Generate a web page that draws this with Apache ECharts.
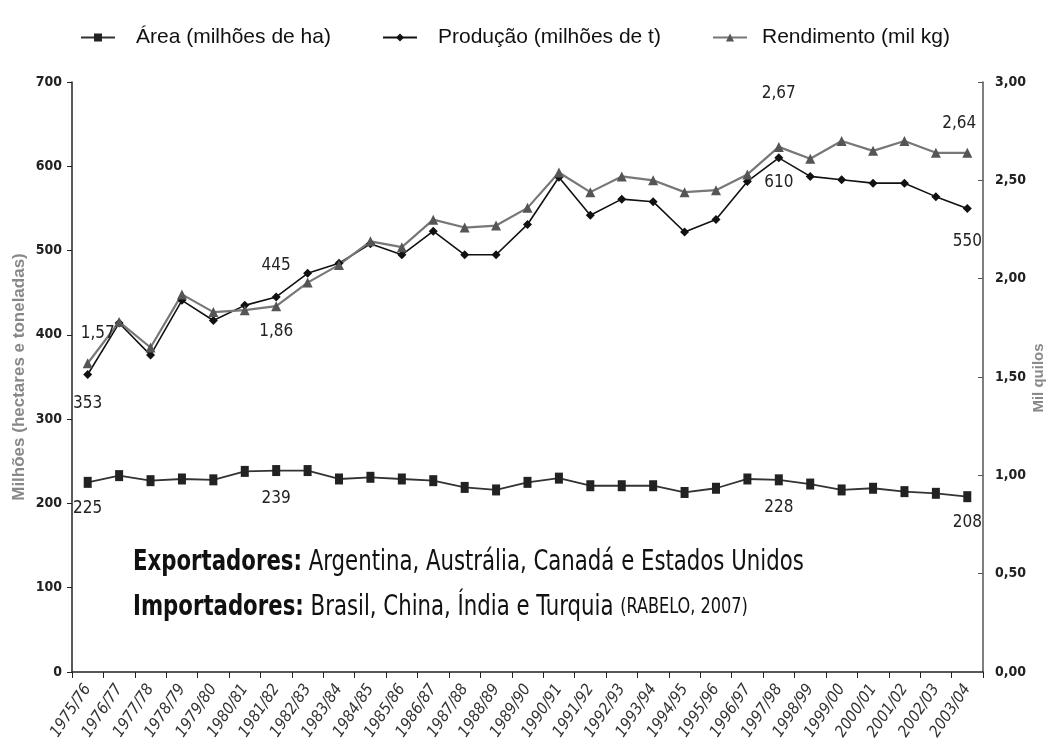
<!DOCTYPE html>
<html>
<head>
<meta charset="utf-8">
<script src="https://cdn.jsdelivr.net/npm/echarts@6/dist/echarts.min.js"></script>
<style>html,body{margin:0;padding:0;background:#fff}#c{width:1049px;height:747px}</style>
</head>
<body>
<div id="c"></div>
<script>
// ---- Data ----
var categories = ['1975/76','1976/77','1977/78','1978/79','1979/80','1980/81','1981/82','1982/83','1983/84','1984/85','1985/86','1986/87','1987/88','1988/89','1989/90','1990/91','1991/92','1992/93','1993/94','1994/95','1995/96','1996/97','1997/98','1998/99','1999/00','2000/01','2001/02','2002/03','2003/04'];
var area = [225,233,227,229,228,238,239,239,229,231,229,227,219,216,225,230,221,221,221,213,218,229,228,223,216,218,214,212,208];
var producao = [353,414,376,441,417,435,445,473,485,508,495,523,495,495,531,587,542,561,558,522,537,582,610,588,584,580,580,564,550];
var rendimento = [1.57,1.78,1.65,1.92,1.83,1.84,1.86,1.98,2.07,2.19,2.16,2.30,2.26,2.27,2.36,2.54,2.44,2.52,2.50,2.44,2.45,2.53,2.67,2.61,2.70,2.65,2.70,2.64,2.64];
var leftTicks = {min:0, max:700, interval:100};
var rightTicks = {min:0, max:3, interval:0.5};
var seriesNames = ['Área (milhões de ha)','Produção (milhões de t)','Rendimento (mil kg)'];
var rightAxisTitle = 'Mil quilos';

// ---- Label styling (which points carry a value label) ----
var narrow = "'Liberation Sans Narrow','Arial Narrow','DejaVu Sans Condensed',sans-serif";
var areaLabels = {0:{position:'bottom',distance:12},6:{position:'bottom',distance:14},22:{position:'bottom',distance:14},28:{position:'bottom',distance:12}};
var prodLabels = {0:{position:'bottom',distance:16},6:{position:'top',distance:18},22:{position:'bottom',distance:12},28:{position:'bottom',distance:20}};
var rendLabels = {0:{position:'top',distance:16,offset:[10,0]},6:{position:'bottom',distance:12},22:{position:'top',distance:40},28:{position:'top',distance:16,offset:[-8,0]}};

function fmt(v, dec){ return dec ? v.toFixed(2).replace('.', ',') : String(v); }
function build(values, labels, dec){
  return values.map(function(v,i){
    var l = labels[i];
    if(!l) return v;
    return {value:v, label:{show:true, position:l.position, distance:l.distance, offset:l.offset||[0,0],
      formatter:fmt(v,dec), fontFamily:narrow, fontSize:17, color:'#222'}};
  });
}

var chart = echarts.init(document.getElementById('c'), null, {renderer:'canvas'});
var axisLabelStyle = {fontFamily:narrow, fontWeight:'bold', fontSize:14, color:'#222'};
var legendText = {fontFamily:"'Liberation Sans',Arial,sans-serif", fontSize:21, color:'#111', padding:[0,0,0,16]};
var titleStyle = {fontFamily:"'Liberation Sans',Arial,sans-serif", fontWeight:'bold', fontSize:17, color:'#888'};

chart.setOption({
  animation:false,
  backgroundColor:'#fff',
  legend:[
    {left:75, top:22, itemWidth:34, itemHeight:10, data:[seriesNames[0]], textStyle:legendText},
    {left:377, top:22, itemWidth:34, itemHeight:10, data:[seriesNames[1]], textStyle:legendText},
    {left:707, top:22, itemWidth:34, itemHeight:10, data:[seriesNames[2]], textStyle:Object.assign({},legendText,{padding:[0,0,0,10]})}
  ],
  grid:{left:72, right:66, top:82, bottom:75, containLabel:false, outerBoundsMode:'none'},
  xAxis:{
    type:'category', data:categories, boundaryGap:true,
    axisLine:{lineStyle:{color:'#222', width:1.5}},
    axisTick:{show:true, length:6, lineStyle:{color:'#222'}},
    axisLabel:{rotate:56, interval:0, fontFamily:narrow, fontStyle:'italic', fontSize:16, color:'#333', margin:14}
  },
  yAxis:[
    {type:'value', min:leftTicks.min, max:leftTicks.max, interval:leftTicks.interval,
     name:'Milhões (hectares e toneladas)', nameLocation:'middle', nameGap:44, nameRotate:90,
     nameMoveOverlap:false,
     nameTextStyle:titleStyle,
     axisLine:{show:true, lineStyle:{color:'#222', width:1.5}},
     axisTick:{show:true, length:5, lineStyle:{color:'#222'}},
     splitLine:{show:false},
     axisLabel:Object.assign({margin:10}, axisLabelStyle)},
    {type:'value', min:rightTicks.min, max:rightTicks.max, interval:rightTicks.interval,
     axisLine:{show:true, lineStyle:{color:'#555', width:1.5}},
     axisTick:{show:true, length:5, inside:true, lineStyle:{color:'#555'}},
     splitLine:{show:false},
     axisLabel:Object.assign({margin:12, formatter:function(v){return v.toFixed(2).replace('.',',');}}, axisLabelStyle)}
  ],
  series:[
    {name:seriesNames[0], type:'line', yAxisIndex:0, data:build(area, areaLabels, false),
     symbol:'rect', symbolSize:[8,11], lineStyle:{color:'#333', width:1.8},
     itemStyle:{color:'#222'}},
    {name:seriesNames[1], type:'line', yAxisIndex:0, data:build(producao, prodLabels, false),
     symbol:'diamond', symbolSize:9, lineStyle:{color:'#111', width:1.6},
     itemStyle:{color:'#111'}},
    {name:seriesNames[2], type:'line', yAxisIndex:1, data:build(rendimento, rendLabels, true),
     symbol:'triangle', symbolSize:10, lineStyle:{color:'#777', width:2.2},
     itemStyle:{color:'#555'}}
  ],
  graphic:[
    {type:'text', left:133, top:540, scaleX:0.815, style:{
      text:'{b|Exportadores:} Argentina, Austrália, Canadá e Estados Unidos\n{b|Importadores:} Brasil, China, Índia e Turquia {s|(RABELO, 2007)}',
      font:"29px "+narrow, fill:'#111', lineHeight:45,
      rich:{b:{fontFamily:narrow, fontWeight:'bold', fontSize:29, fill:'#111'}, s:{fontFamily:narrow, fontSize:22, fill:'#111'}}
    }},
    {type:'text', x:1039, y:378, rotation:Math.PI/2, style:{
      text:rightAxisTitle, fontFamily:"'Liberation Sans',Arial,sans-serif", fontWeight:'bold', fontSize:15,
      fill:'#888', align:'center', verticalAlign:'middle'
    }}
  ]
});
</script>
</body>
</html>
